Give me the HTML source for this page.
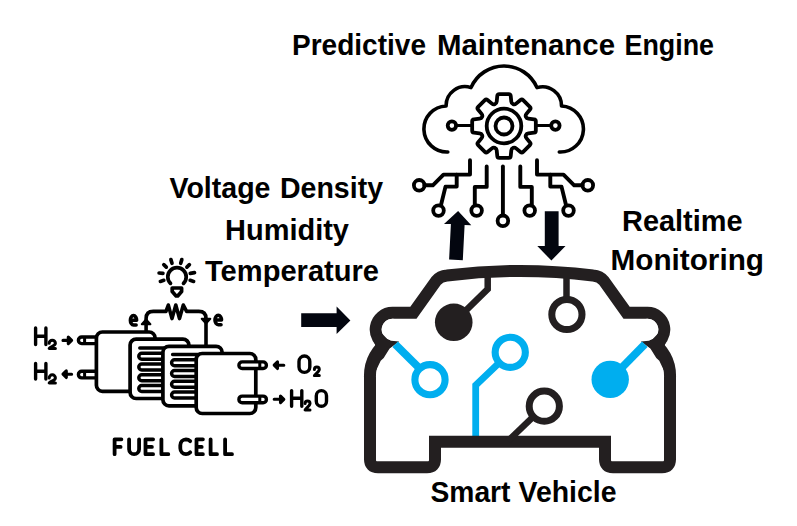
<!DOCTYPE html>
<html><head><meta charset="utf-8"><style>
html,body{margin:0;padding:0;background:#fff;}
svg{display:block;}
text{font-family:"Liberation Sans",sans-serif;font-weight:bold;fill:#000;}
</style></head><body>
<svg width="797" height="526" viewBox="0 0 797 526">
<rect width="797" height="526" fill="#fff"/>
<!-- titles -->
<text x="292.00" y="54.7" font-size="29.0" textLength="134.00" lengthAdjust="spacingAndGlyphs">Predictive</text>
<text x="437.00" y="54.7" font-size="29.0" textLength="178.00" lengthAdjust="spacingAndGlyphs">Maintenance</text>
<text x="624.50" y="54.7" font-size="29.0" textLength="89.50" lengthAdjust="spacingAndGlyphs">Engine</text>
<text x="169.50" y="198.1" font-size="29.0" textLength="101.00" lengthAdjust="spacingAndGlyphs">Voltage</text>
<text x="280.00" y="198.1" font-size="29.0" textLength="103.00" lengthAdjust="spacingAndGlyphs">Density</text>
<text x="225.00" y="239.7" font-size="29.0" textLength="124.00" lengthAdjust="spacingAndGlyphs">Humidity</text>
<text x="205.00" y="280.6" font-size="29.0" textLength="174.00" lengthAdjust="spacingAndGlyphs">Temperature</text>
<text x="622.00" y="230.6" font-size="29.0" textLength="120.50" lengthAdjust="spacingAndGlyphs">Realtime</text>
<text x="610.50" y="270.2" font-size="29.0" textLength="153.50" lengthAdjust="spacingAndGlyphs">Monitoring</text>
<text x="430.50" y="501.8" font-size="29.0" textLength="80.00" lengthAdjust="spacingAndGlyphs">Smart</text>
<text x="518.50" y="501.8" font-size="29.0" textLength="98.00" lengthAdjust="spacingAndGlyphs">Vehicle</text>
<!-- car -->
<g fill="none" stroke="#00aeef" stroke-width="6.8">
<path d="M475.7 440 L475.7 385.2 L510.2 352.3"/>
</g>
<circle cx="510.25" cy="352.3" r="15.1" fill="#fff" stroke="#00aeef" stroke-width="7.1"/>
<circle cx="610.2" cy="379.4" r="18.7" fill="#00aeef"/>
<g fill="none" stroke="#231f20" stroke-width="12" stroke-linejoin="miter">
<path d="M390 340 Q369 355 370 378 L370 400 L370 459.2 Q370 467.2 378 467.2 L427 467.2 Q435 467.2 435 459.2 L435 441.7 L605 441.7 L605 459.2 Q605 467.2 613 467.2 L662 467.2 Q670 467.2 670 459.2 L670 400 L670 378 Q671 355 650 340"/>
<path d="M386.75 345.39 A16.8 16.8 0 0 1 392.5 312.8 L413.4 312.8 L436 281 Q440 276 447 275.5 Q520 266.5 593 275.5 Q600 276 604 281 L626.6 312.8 L647.5 312.8 A16.8 16.8 0 0 1 653.25 345.39"/>
</g>
<circle cx="392.5" cy="329.6" r="10.8" fill="#fff"/>
<circle cx="647.5" cy="329.6" r="10.8" fill="#fff"/>
<path d="M381.5 333 L388.6 340.4 L399.1 341.4 L389.6 348.5 L383.7 358 L380.7 360.8 L376.3 370 L370 370 L372 357 L375.3 345.2 L372 336 Z M658.5 333 L651.4 340.4 L640.9 341.4 L650.4 348.5 L656.3 358 L659.3 360.8 L663.7 370 L670.0 370 L668.0 357 L664.7 345.2 L668.0 336 Z" fill="#231f20"/>
<g fill="none" stroke="#00aeef" stroke-width="7.8">
<path d="M395.2 344.2 L430.5 379.2"/>
<path d="M644.8 344.2 L610.2 379.4"/>
</g>
<circle cx="430" cy="379.7" r="15.1" fill="#fff" stroke="#00aeef" stroke-width="7.1"/>
<g fill="none" stroke="#231f20" stroke-width="6.5" stroke-linejoin="miter">
<path d="M487.7 277 L487.7 289.2 L453.75 322.3"/>
<path d="M566.5 277 L566.5 299"/>
<path d="M508 441 L544.3 406.2"/>
</g>
<circle cx="566.9" cy="314.5" r="15.1" fill="#fff" stroke="#231f20" stroke-width="7"/>
<circle cx="544.3" cy="406.2" r="15.1" fill="#fff" stroke="#231f20" stroke-width="7"/>
<circle cx="453.75" cy="322.3" r="18.8" fill="#231f20"/>

<!-- cloud + gear -->
<g fill="none" stroke="#000" stroke-width="3.6" stroke-linecap="round" stroke-linejoin="round">
<path d="M447.8 152 A23 23 0 0 1 446.1 106 A19 19 0 0 1 471 87.6 A36 36 0 0 1 537 87.6 A19 19 0 0 1 561.5 106 A22.8 22.8 0 0 1 559.3 152"/>
<path d="M495.06 104.01 Q496.53 103.4 496.71 101.61 L497.27 95.96 Q497.45 94.17 499.25 94.17 L508.75 94.17 Q510.55 94.17 510.73 95.96 L511.29 101.61 Q511.47 103.4 512.94 104.01 L513.23 104.13 Q514.7 104.74 516.09 103.6 L520.48 100 Q521.87 98.86 523.15 100.13 L529.87 106.85 Q531.14 108.13 530 109.52 L526.4 113.91 Q525.26 115.3 525.87 116.77 L525.99 117.06 Q526.6 118.53 528.39 118.71 L534.04 119.27 Q535.83 119.45 535.83 121.25 L535.83 130.75 Q535.83 132.55 534.04 132.73 L528.39 133.29 Q526.6 133.47 525.99 134.94 L525.87 135.23 Q525.26 136.7 526.4 138.09 L530 142.48 Q531.14 143.87 529.87 145.15 L523.15 151.87 Q521.87 153.14 520.48 152 L516.09 148.4 Q514.7 147.26 513.23 147.87 L512.94 147.99 Q511.47 148.6 511.29 150.39 L510.73 156.04 Q510.55 157.83 508.75 157.83 L499.25 157.83 Q497.45 157.83 497.27 156.04 L496.71 150.39 Q496.53 148.6 495.06 147.99 L494.77 147.87 Q493.3 147.26 491.91 148.4 L487.52 152 Q486.13 153.14 484.85 151.87 L478.13 145.15 Q476.86 143.87 478 142.48 L481.6 138.09 Q482.74 136.7 482.13 135.23 L482.01 134.94 Q481.4 133.47 479.61 133.29 L473.96 132.73 Q472.17 132.55 472.17 130.75 L472.17 121.25 Q472.17 119.45 473.96 119.27 L479.61 118.71 Q481.4 118.53 482.01 117.06 L482.13 116.77 Q482.74 115.3 481.6 113.91 L478 109.52 Q476.86 108.13 478.13 106.85 L484.85 100.13 Q486.13 98.86 487.52 100 L491.91 103.6 Q493.3 104.74 494.77 104.13 Z" stroke-width="3.8"/>
<circle cx="504" cy="126" r="17.3" stroke-width="3.8"/>
<circle cx="504" cy="126" r="8.5" stroke-width="3.8"/>
<path d="M456 125.5 L472 125.5 M536 125.5 L551.5 125.5" stroke-width="3.2"/>
<circle cx="451.9" cy="125.6" r="4.2" stroke-width="3.8"/>
<circle cx="555.4" cy="125.6" r="4.2" stroke-width="3.8"/>
<!-- circuits -->
<g stroke-width="3.9">
<path d="M424.4 185.3 L432.8 185.3 L443.5 174.6 L470 174.6 L470 160.3"/>
<path d="M441 205 L445.5 186.6 L456.7 186.6 L456.7 174.6"/>
<path d="M474.8 205 L474.8 186.9 L486.7 186.9 L486.7 166.4"/>
<path d="M502.9 166.4 L502.9 215"/>
<path d="M520.3 166.4 L520.3 186.9 L531.8 186.9 L531.8 205"/>
<path d="M550.3 174.6 L550.3 186.6 L561.5 186.6 L566 205"/>
<path d="M537 160.3 L537 174.6 L563.5 174.6 L574.2 185.3 L582.6 185.3"/>
</g>
<g stroke-width="3.8">
<circle cx="419.2" cy="185.3" r="5.3"/>
<circle cx="438.5" cy="210.6" r="5.3"/>
<circle cx="476.6" cy="210.6" r="5.3"/>
<circle cx="502.9" cy="220.8" r="5.3"/>
<circle cx="529.7" cy="210.6" r="5.3"/>
<circle cx="568.5" cy="210.6" r="5.3"/>
<circle cx="587.8" cy="185.3" r="5.3"/>
</g>
</g>

<!-- arrows -->
<path d="M458.1 211 L471.3 225.3 L464.6 225.1 L462.8 260.2 L449.1 259.6 L450.9 224.1 L444 224 Z" fill="#03060f"/>
<path d="M544.8 211.3 L558.6 211.3 L558.6 246 L565.5 246 L551.4 260.6 L537.3 246 L544.8 246 Z" fill="#03060f"/>
<path d="M301.2 313.3 L336.6 313.3 L336.6 306.6 L350.4 320.5 L336.6 334 L336.6 326.9 L301.2 326.9 Z" fill="#03060f"/>

<!-- fuel cell -->
<g fill="none" stroke="#000" stroke-width="3.4" stroke-linecap="round" stroke-linejoin="round">
<path d="M35.6 328L35.6 344.5M45.9 328L45.9 344.5M35.6 336.3L45.9 336.3"/>
<path d="M49.2 343.3A3.1 3.1 0 0 1 55.4 343.3C55.4 346.09 50.13 346.54 49.2 348.4L55.4 348.4" stroke-width="3"/>
<path d="M35.6 363.5L35.6 379M45.9 363.5L45.9 379M35.6 371.3L45.9 371.3"/>
<path d="M49.2 377.9A3.1 3.1 0 0 1 55.4 377.9C55.4 380.69 50.13 381.14 49.2 383L55.4 383" stroke-width="3"/>
<path d="M63 340.4L69.6 340.4M68.3 337.1L71.6 340.4L68.3 343.7Z" fill="#000" stroke-width="3.1"/>
<path d="M71.6 374.2L65 374.2M66.3 370.9L63 374.2L66.3 377.5Z" fill="#000" stroke-width="3.1"/>
<path d="M299 361.4A5.4 5.4 0 0 1 309.8 361.4L309.8 367A5.4 5.4 0 0 1 299 367Z"/>
<path d="M314.4 369.45A2.45 2.45 0 0 1 319.3 369.45C319.3 371.66 315.13 374.13 314.4 375.6L319.3 375.6" stroke-width="3"/>
<path d="M291.6 390.6L291.6 406.3M301.8 390.6L301.8 406.3M291.6 398.2L301.8 398.2"/>
<path d="M305.1 403.45A2.45 2.45 0 0 1 310 403.45C310 405.65 305.84 408.53 305.1 410L310 410" stroke-width="3"/>
<path d="M316.3 395.7A5.1 5.1 0 0 1 326.5 395.7L326.5 401.2A5.1 5.1 0 0 1 316.3 401.2Z"/>
<path d="M283.8 365.2L276.2 365.2M277.5 361.9L274.2 365.2L277.5 368.5Z" fill="#000" stroke-width="3.1"/>
<path d="M274.2 399.3L281.8 399.3M280.5 396L283.8 399.3L280.5 402.6Z" fill="#000" stroke-width="3.1"/>
<path d="M130.4 320.25L136.6 320.25A3.1 4.75 0 0 0 133.5 315.5A3.1 4.75 0 0 0 130.4 320.25A3.1 4.75 0 0 0 133.5 325L136.1 325" stroke-width="3.6"/>
<path d="M215 320L221.5 320A3.25 4.7 0 0 0 218.25 315.3A3.25 4.7 0 0 0 215 320A3.25 4.7 0 0 0 218.25 324.7L221 324.7" stroke-width="3.6"/>
<path d="M114.6 454.2L114.6 439.3L121.4 439.3M114.6 446.9L120.6 446.9M129.1 439.3L129.1 449.2A5 5 0 0 0 139.1 449.2L139.1 439.3M153.1 439.3L145.5 439.3L145.5 454.2L153.1 454.2M145.5 446.9L151.9 446.9M161.4 439.3L161.4 454.2L168.3 454.2M190.2 441.2C188.8 439.8 187.5 439.3 186 439.3A6 6 0 0 0 180.3 445.3L180.3 448.3A6 6 0 0 0 186 454.2C187.5 454.2 188.8 453.7 190.2 452.3M202.9 439.3L196.5 439.3L196.5 454.2L202.9 454.2M196.5 446.9L201.7 446.9M210.6 439.3L210.6 454.2L217 454.2M225.1 439.3L225.1 454.2L232 454.2" stroke-width="3.8"/>
</g>
<g stroke="#000" stroke-width="3.7" stroke-linecap="round" stroke-linejoin="round">
<path d="M146.1 338L146.1 318.6Q146.1 311.4 153.3 311.4L166 311.4L168.3 305L172 318.6L175.8 305L179.5 318.6L183.3 305L186.6 311.4L198.8 311.4Q206 311.4 206 318.6L206 346" fill="none" stroke-width="3.6"/>
<path d="M141.8 324.2L146.1 319.4L150.4 324.2Z M201.7 318.8L206 323.6L210.3 318.8Z" fill="#000" stroke-width="2"/>
<rect x="78.4" y="337" width="22" height="6.6" rx="3.3" fill="#fff" stroke-width="3.4"/>
<rect x="78.4" y="371.3" width="22" height="6.6" rx="3.3" fill="#fff" stroke-width="3.4"/>
<g fill="#fff">
<rect x="96.4" y="332" width="58.7" height="59.3" rx="6"/>
</g>
<g fill="#fff"><rect x="130.1" y="339.1" width="58.8" height="59.4" rx="6"/></g>
<path d="M139.8 348.1L168 348.1M168 353.35L141.75 353.35A2.95 2.95 0 0 0 141.75 359.25L168 359.25M168 364.1L141.75 364.1A2.95 2.95 0 0 0 141.75 370L168 370M168 374.85L141.75 374.85A2.95 2.95 0 0 0 141.75 380.75L168 380.75M168 385.6L141.75 385.6A2.95 2.95 0 0 0 141.75 391.5L168 391.5" fill="none" stroke-width="3.5"/>
<g fill="#fff"><rect x="162.9" y="346.3" width="59.2" height="59.5" rx="6"/></g>
<path d="M172.6 354.5L200 354.5M200 359.75L174.55 359.75A2.95 2.95 0 0 0 174.55 365.65L200 365.65M200 370.5L174.55 370.5A2.95 2.95 0 0 0 174.55 376.4L200 376.4M200 381.25L174.55 381.25A2.95 2.95 0 0 0 174.55 387.15L200 387.15M200 392L174.55 392A2.95 2.95 0 0 0 174.55 397.9L200 397.9" fill="none" stroke-width="3.5"/>
<g fill="#fff"><rect x="196.2" y="353.5" width="59.6" height="60" rx="6"/></g>
<rect x="238.9" y="361.9" width="27.5" height="6.6" rx="3.3" fill="#fff" stroke-width="3.4"/>
<path d="M259.8 362.2L259.8 368.2" stroke-width="3"/>
<rect x="238.9" y="396.1" width="27.5" height="6.6" rx="3.3" fill="#fff" stroke-width="3.4"/>
<path d="M259.8 396.4L259.8 402.4" stroke-width="3"/>
</g>
<g stroke="#000" stroke-width="2.2">
<path d="M84.6 337.3L84.6 343.3" stroke-width="3"/>
<path d="M84.6 371.6L84.6 377.6" stroke-width="3"/>
</g>
<g fill="none" stroke="#000" stroke-width="3.7" stroke-linecap="round" stroke-linejoin="round"><path d="M170.5 283.4A9.2 9.2 0 1 1 183.5 283.4"/><path d="M172.2 288L181.6 288L181.6 291.6L177.7 295.9L176.1 295.9L172.2 291.6Z"/><path d="M170.9 259.6L172 263.3M181.8 259.6L180.7 263.3M163.8 264.7L166.3 267.1M189.4 264.7L186.9 267.1M159.1 273L162.9 273.4M194.5 272.6L190.3 273.4M160.4 281.4L163.8 280.3M193.6 281.4L190.2 280.3"/></g>
</svg>
</body></html>
